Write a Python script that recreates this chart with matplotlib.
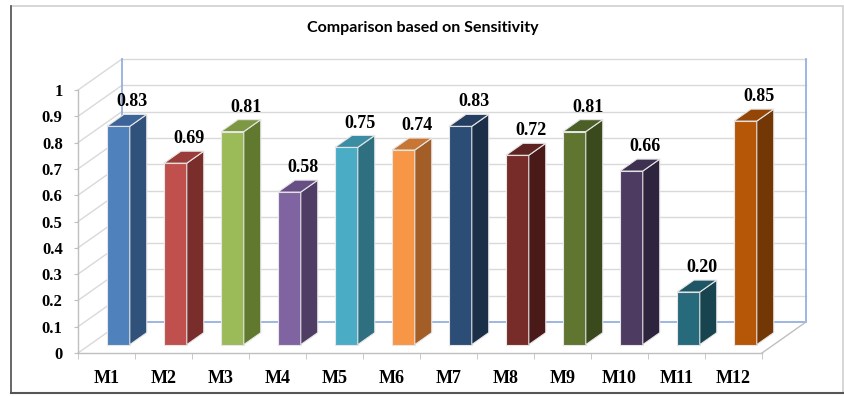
import matplotlib.pyplot as plt
from matplotlib.patches import Polygon, Rectangle
from matplotlib.lines import Line2D

models = ['M1', 'M2', 'M3', 'M4', 'M5', 'M6', 'M7', 'M8', 'M9', 'M10', 'M11', 'M12']
sensitivity = [0.83, 0.69, 0.81, 0.58, 0.75, 0.74, 0.83, 0.72, 0.81, 0.66, 0.20, 0.85]
value_labels = ['0.83', '0.69', '0.81', '0.58', '0.75', '0.74', '0.83', '0.72', '0.81', '0.66', '0.20', '0.85']
ytick_vals = [0, 0.1, 0.2, 0.3, 0.4, 0.5, 0.6, 0.7, 0.8, 0.9, 1]
ytick_labels = ['0', '0.1', '0.2', '0.3', '0.4', '0.5', '0.6', '0.7', '0.8', '0.9', '1']

front = ['#4F81BD', '#C0504D', '#9BBB59', '#8064A2', '#4BACC6', '#F79646',
         '#2C4D75', '#772C2A', '#5F7530', '#4D3B62', '#276A7C', '#B65708']
side = ['#30527A', '#7A2E2C', '#61782F', '#4F3D66', '#2E707F', '#A35E28',
        '#1B2F49', '#4A1A19', '#3B4A1D', '#2F243D', '#184450', '#733605']
top = ['#3C6498', '#9A3C39', '#7D9843', '#674F85', '#3A8DA2', '#C77635',
       '#243F61', '#5F2321', '#4C5F26', '#3E3050', '#1F5665', '#944606']

W, H = 845, 396
fig = plt.figure(figsize=(W / 100, H / 100), dpi=100)
# front plane of the fake 3D box: x 78..762 px, y 353..90 px
ax = fig.add_axes([78 / W, (H - 353) / H, 684 / W, 263 / H])
ax.set_xlim(0, 12)
ax.set_ylim(0, 1)
ax.set_facecolor('none')

grid_c = '#D9D9D9'
blue_c = '#8EAADB'
Dx, Dy = 44 / 57, 31 / 263      # full depth of the box in data units
f0, d = 0.27, 0.386             # bar front position and bar depth (fractions of depth)
bw = 0.40

# side wall and back wall
for v in ytick_vals:
    ax.add_line(Line2D([0, Dx], [v, v + Dy], color=grid_c, lw=1, clip_on=False, zorder=1))
    if v > 0:
        ax.add_line(Line2D([Dx, 12 + Dx], [v + Dy, v + Dy], color=grid_c, lw=1, clip_on=False, zorder=1))
ax.add_line(Line2D([Dx, 12 + Dx], [Dy, Dy], color=blue_c, lw=1.2, clip_on=False, zorder=1))
ax.add_line(Line2D([Dx, Dx], [Dy, 1 + Dy], color=blue_c, lw=1.2, clip_on=False, zorder=1))
ax.add_line(Line2D([12 + Dx, 12 + Dx], [Dy, 1 + Dy], color=blue_c, lw=1.2, clip_on=False, zorder=1))
ax.add_line(Line2D([12, 12 + Dx], [0, Dy], color='#BFBFBF', lw=1, clip_on=False, zorder=1))

# bars
xs = [i + 0.5 + f0 * Dx for i in range(len(models))]
base = f0 * Dy
ax.bar(xs, sensitivity, width=bw, bottom=base, color=front, edgecolor='#E6E6E6',
       linewidth=0.8, zorder=3, clip_on=False)
for i, v in enumerate(sensitivity):
    xl, xr = xs[i] - bw / 2, xs[i] + bw / 2
    ox, oy = d * Dx, d * Dy
    ax.add_patch(Polygon([(xr, base), (xr + ox, base + oy), (xr + ox, base + v + oy), (xr, base + v)],
                         closed=True, facecolor=side[i], edgecolor='#E6E6E6', lw=0.8,
                         zorder=3, clip_on=False))
    ax.add_patch(Polygon([(xl, base + v), (xr, base + v), (xr + ox, base + v + oy), (xl + ox, base + v + oy)],
                         closed=True, facecolor=top[i], edgecolor='#E6E6E6', lw=0.8,
                         zorder=3, clip_on=False))
    ax.text(i + 0.5 + 0.45, base + v + oy + 0.03, value_labels[i], ha='center', va='baseline',
            fontsize=13, fontweight='bold', family='Liberation Serif', zorder=4)

# axes
for s in ['top', 'right']:
    ax.spines[s].set_visible(False)
for s in ['left', 'bottom']:
    ax.spines[s].set_color('#BFBFBF')
    ax.spines[s].set_linewidth(1)
ax.set_yticks(ytick_vals)
ax.set_yticklabels(ytick_labels, fontsize=12, fontweight='bold', family='Liberation Serif')
ax.tick_params(axis='y', length=3, color='#BFBFBF', pad=8)
ax.set_xticks([i + 0.5 for i in range(len(models))])
ax.set_xticklabels(models, fontsize=13, fontweight='bold', family='Liberation Serif')
ax.set_xticks(range(13), minor=True)
ax.tick_params(axis='x', which='major', length=0, pad=12)
ax.tick_params(axis='x', which='minor', length=4, color='#BFBFBF')

fig.text(423 / W, 1 - 28 / H, 'Comparison based on Sensitivity', ha='center', va='center',
         fontsize=11.5, fontweight='bold', family='Lato')

# outer chart border
fig.add_artist(Rectangle((11 / W, (H - 393) / H), 832 / W, 387 / H, transform=fig.transFigure,
                         fill=False, edgecolor='#D0D0D0', lw=1.2))
fig.add_artist(Line2D([11 / W, 11 / W], [(H - 393) / H, (H - 6) / H], transform=fig.transFigure,
                      color='#555555', lw=1.2))
fig.add_artist(Line2D([11 / W, 843 / W], [(H - 393) / H, (H - 393) / H], transform=fig.transFigure,
                      color='#555555', lw=1.5))

fig.savefig('out.png', dpi=100)
